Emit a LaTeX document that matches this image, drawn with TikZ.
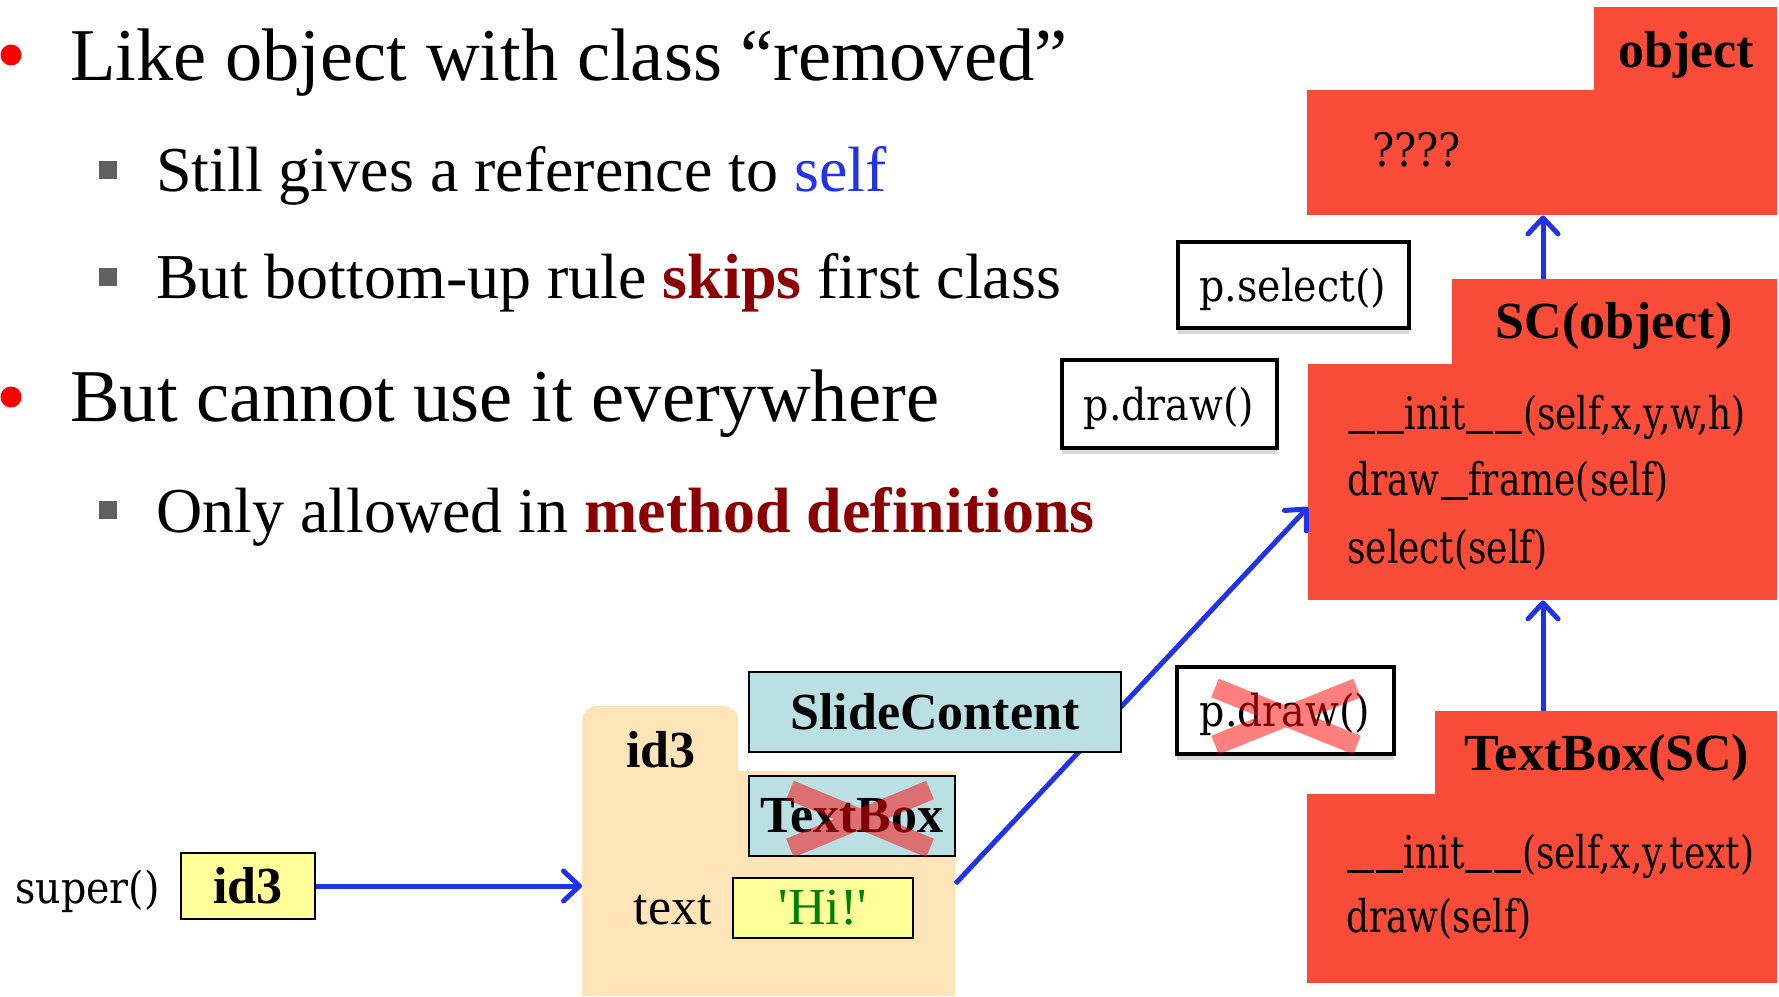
\documentclass[tikz,border=0pt]{standalone}
\usepackage{fontspec}
\setmainfont{Liberation Serif}
\newfontfamily\codefont[FakeStretch=0.8]{DejaVu Serif}
\newfontfamily\callfont[FakeStretch=0.9]{DejaVu Serif}
\usetikzlibrary{positioning,calc,arrows.meta,shadows}

\definecolor{clsred}{RGB}{248,76,56}
\definecolor{clsblue}{RGB}{186,224,227}
\definecolor{objpeach}{RGB}{255,228,184}
\definecolor{valyellow}{RGB}{255,255,153}
\definecolor{ptrblue}{RGB}{34,51,230}
\definecolor{hilite}{RGB}{139,0,0}
\definecolor{strgreen}{RGB}{0,128,0}
\definecolor{subgray}{RGB}{96,96,96}

\newcommand{\bigtxt}{\fontsize{74.5}{88}\selectfont}
\newcommand{\subtxt}{\fontsize{64}{75}\selectfont}
\newcommand{\boxtxt}{\fontsize{52}{62}\selectfont}
\newcommand{\codetxt}{\codefont\fontsize{45}{52}\selectfont}
\newcommand{\calltxt}{\callfont\fontsize{44}{52}\selectfont}
\newcommand{\us}{\kern0.02em\rule[-0.11em]{0.6em}{0.055em}\kern0.02em}

\tikzstyle{txtline} = [anchor=base west, inner sep=0pt]
\tikzstyle{clsbox} = [fill=clsred, anchor=north west, inner sep=0pt]
\tikzstyle{objbox} = [fill=objpeach, anchor=north west, inner sep=0pt]
\tikzstyle{typebox} = [draw, line width=2pt, fill=clsblue, inner sep=0pt, font=\bfseries\boxtxt]
\tikzstyle{valbox} = [draw, line width=2pt, fill=valyellow, inner sep=0pt]
\tikzstyle{callbox} = [draw, line width=4pt, fill=white, inner sep=0pt, font=\calltxt,
    text height=33pt, text depth=0pt,
    drop shadow={shadow xshift=0pt, shadow yshift=-6pt, opacity=0.3}]
\tikzstyle{ptr} = [->, ptrblue, line width=5pt]
\tikzset{reddot/.style={circle, fill=red, minimum size=21pt, inner sep=0pt},
    subsq/.style={rectangle, fill=subgray, minimum size=18pt, inner sep=0pt},
    crossmark/.style={red, opacity=0.5, line width=20pt}}

\begin{document}
\begin{tikzpicture}[x=1pt, y=-1pt, >={Straight Barb[length=16pt,width=30pt,round]}]
    \useasboundingbox (0,0) rectangle (1779,996);

    \node [reddot] (b1) at (11,55) {};
    \node [txtline, font=\bigtxt] (l1) at (70,80) {Like object with class “removed”};
    \node [subsq] (s1) at (108,170) {};
    \node [txtline, font=\subtxt] (l2) at (156,191) {Still gives a reference to \textcolor{ptrblue}{self}};
    \node [subsq] (s2) at (108,277) {};
    \node [txtline, font=\subtxt] (l3) at (156,298) {But bottom-up rule \textcolor{hilite}{\bfseries skips} first class};
    \node [reddot] (b2) at (11,397) {};
    \node [txtline, font=\bigtxt] (l4) at (70,421) {But cannot use it everywhere};
    \node [subsq] (s3) at (108,510) {};
    \node [txtline, font=\subtxt] (l5) at (156,532) {Only allowed in \textcolor{hilite}{\bfseries method definitions}};

    \node [clsbox, minimum width=183pt, minimum height=83pt] (objtab) at (1594,7) {};
    \node [clsbox, minimum width=470pt, minimum height=125pt] (objbody) at (1307,90) {};
    \node [anchor=base, font=\bfseries\boxtxt] (objname) at (1686,67) {object};
    \node [txtline, font=\callfont\fontsize{46}{52}\selectfont] (objq) at (1372,166) {????};

    \node [clsbox, minimum width=325pt, minimum height=86pt] (sctab) at (1452,279) {};
    \node [clsbox, minimum width=469pt, minimum height=236pt] (scbody) at (1308,364) {};
    \node [anchor=base, font=\bfseries\boxtxt] (scname) at (1614,338) {SC(object)};
    \node [txtline, font=\codetxt] (scinit) at (1347,429) {\us\us init\us\us(self,x,y,w,h)};
    \node [txtline, font=\codetxt] (scframe) at (1347,495) {draw\us frame(self)};
    \node [txtline, font=\codetxt] (scselect) at (1347,563) {select(self)};

    \node [clsbox, minimum width=342pt, minimum height=84pt] (tbtab) at (1435,711) {};
    \node [clsbox, minimum width=470pt, minimum height=189pt] (tbbody) at (1307,794) {};
    \node [anchor=base, font=\bfseries\boxtxt] (tbname) at (1607,770) {TextBox(SC)};
    \node [txtline, font=\codetxt] (tbinit) at (1346,868) {\us\us init\us\us(self,x,y,text)};
    \node [txtline, font=\codetxt] (tbdraw) at (1346,932) {draw(self)};

    \coordinate (scup) at (1543,279);
    \coordinate (tbup) at (1543,711);
    \draw [ptr] (scup) -- (scup |- objbody.south);
    \draw [ptr] (tbup) -- (tbup |- scbody.south);

    \node [callbox, minimum width=231pt, minimum height=86pt] (pselect) at (1293,285) {p.select()};
    \node [callbox, minimum width=215pt, minimum height=88pt] (pdraw) at (1169,404) {p.draw()};
    \node [callbox, minimum width=217pt, minimum height=87pt] (pdrawx) at (1285,710) {p.draw()};
    \draw [crossmark] (1215,688) -- (1357,745) (1215,745) -- (1357,688);

    \node [objbox, rounded corners=14pt, minimum width=156pt, minimum height=90pt] (idtab) at (582,706) {};
    \node [objbox, minimum width=373pt, minimum height=225pt] (idbody) at (582,771) {};
    \node [anchor=base, font=\bfseries\boxtxt] (idname) at (661,767) {id3};

    \draw [ptr] (idbody.east) -- ($(scbody.west)+(0,25)$);

    \node [typebox, minimum width=372pt, minimum height=80pt] (slidecls) at (935,712) {SlideContent};
    \node [typebox, minimum width=206pt, minimum height=80pt] (tboxcls) at (852,816) {TextBox};
    \draw [crossmark] (790,790) -- (930,848) (790,848) -- (930,790);

    \node [valbox, minimum width=180pt, minimum height=60pt, font=\boxtxt, text=strgreen] (hival) at (823,908) {\textquotesingle Hi!\textquotesingle};
    \node [inner sep=0pt, font=\boxtxt, base left=20pt of hival] (textlbl) {text};

    \node [valbox, minimum width=134pt, minimum height=66pt, font=\bfseries\boxtxt] (id3val) at (248,886) {id3};
    \node [inner sep=0pt, font=\calltxt, base left=20pt of id3val] (superlbl) {super()};
    \draw [ptr] (id3val.east) -- (id3val.east -| idbody.west);
\end{tikzpicture}
\end{document}
